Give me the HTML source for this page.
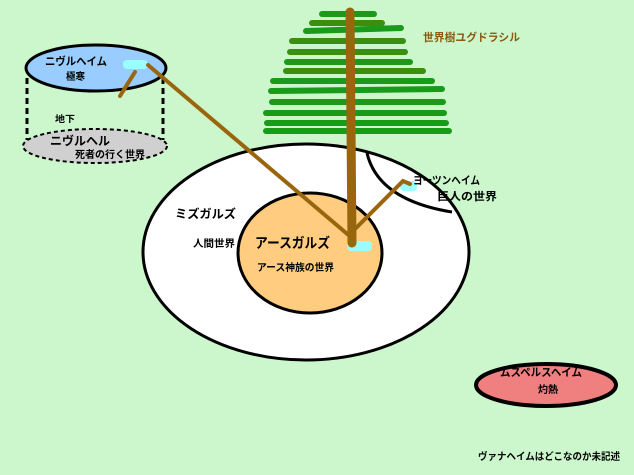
<!DOCTYPE html>
<html><head><meta charset="utf-8"><style>
body{margin:0;background:#ccf7cc;}
svg{display:block;font-family:"Liberation Sans","Noto Sans CJK JP",sans-serif;}
</style></head><body>
<svg width="634" height="475" viewBox="0 0 634 475">
<rect width="634" height="475" fill="#ccf7cc"/>
<!-- Hel -->
<line x1="27" y1="78" x2="27" y2="140" stroke="#000" stroke-width="3" stroke-dasharray="6,4"/>
<line x1="163" y1="78" x2="163" y2="140" stroke="#000" stroke-width="3" stroke-dasharray="6,4"/>
<ellipse cx="95" cy="146" rx="72" ry="17" fill="#d0d0d0" stroke="#000" stroke-width="2" stroke-dasharray="4,3"/>
<text x="55" y="122" font-size="9" font-weight="bold" textLength="20" lengthAdjust="spacingAndGlyphs">地下</text>
<text x="50" y="145" font-size="12" font-weight="bold" textLength="60" lengthAdjust="spacingAndGlyphs">ニヴルヘル</text>
<text x="75" y="158" font-size="10" font-weight="bold" textLength="70" lengthAdjust="spacingAndGlyphs">死者の行く世界</text>
<!-- Niflheim -->
<ellipse cx="96" cy="68" rx="70" ry="23" fill="#99ccff" stroke="#000" stroke-width="3"/>
<text x="45" y="65" font-size="11" font-weight="bold" textLength="62" lengthAdjust="spacingAndGlyphs">ニヴルヘイム</text>
<text x="66" y="80" font-size="10" font-weight="bold" textLength="19" lengthAdjust="spacingAndGlyphs">極寒</text>
<rect x="123" y="60" width="25" height="9" rx="4" fill="#99ffff"/>
<!-- Midgard -->
<ellipse cx="306" cy="252" rx="163" ry="108" fill="#fff" stroke="#000" stroke-width="3"/>
<path d="M367 153 Q378 200 452 212" fill="none" stroke="#000" stroke-width="3"/>
<ellipse cx="310" cy="253" rx="72" ry="60" fill="#ffcc80" stroke="#000" stroke-width="3"/>
<text x="175" y="218" font-size="12" font-weight="bold" textLength="61" lengthAdjust="spacingAndGlyphs">ミズガルズ</text>
<text x="193" y="247" font-size="10" font-weight="bold" textLength="42" lengthAdjust="spacingAndGlyphs">人間世界</text>
<text x="255" y="248" font-size="14" font-weight="bold" textLength="75" lengthAdjust="spacingAndGlyphs">アースガルズ</text>
<text x="257" y="271" font-size="10" font-weight="bold" textLength="77" lengthAdjust="spacingAndGlyphs">アース神族の世界</text>
<rect x="400" y="181" width="17" height="10" rx="4" fill="#99ffff"/>
<text x="413" y="184" font-size="11" font-weight="bold" textLength="67" lengthAdjust="spacingAndGlyphs">ヨーツンヘイム</text>
<text x="437" y="200" font-size="11" font-weight="bold" textLength="60" lengthAdjust="spacingAndGlyphs">巨人の世界</text>
<rect x="347" y="241" width="25" height="10" rx="4" fill="#99ffff"/>
<!-- tree branches -->
<g stroke-linecap="round" stroke-width="6">
<line x1="322" y1="14" x2="374" y2="14" stroke="#1a9a1a"/>
<line x1="312" y1="23" x2="382" y2="23" stroke="#3a8f10"/>
<line x1="306" y1="31" x2="401" y2="28" stroke="#1a9a1a"/>
<line x1="292" y1="41" x2="403" y2="41" stroke="#3a8f10"/>
<line x1="290" y1="52" x2="405" y2="52" stroke="#3a8f10"/>
<line x1="287" y1="62" x2="410" y2="62" stroke="#1a9a1a"/>
<line x1="286" y1="71" x2="423" y2="71" stroke="#3a8f10"/>
<line x1="273" y1="81" x2="432" y2="81" stroke="#1a9a1a"/>
<line x1="271" y1="91" x2="442" y2="89" stroke="#1a9a1a"/>
<line x1="272" y1="102" x2="443" y2="102" stroke="#1a9a1a"/>
<line x1="266" y1="113" x2="444" y2="113" stroke="#1a9a1a"/>
<line x1="267" y1="123" x2="446" y2="123" stroke="#1a9a1a"/>
<line x1="266" y1="131" x2="449" y2="131" stroke="#1a9a1a"/>
</g>
<!-- roots -->
<g stroke="#99660d" stroke-width="4" stroke-linecap="round" fill="none">
<line x1="148" y1="65" x2="352" y2="238"/>
<line x1="120" y1="96" x2="135" y2="72"/>
<polyline points="352,232 403,181 410,184"/>
</g>
<line x1="350" y1="12" x2="352" y2="243" stroke="#99660d" stroke-width="9" stroke-linecap="round"/>
<text x="423" y="41" font-size="11" font-weight="bold" fill="#8b5a10" textLength="97" lengthAdjust="spacingAndGlyphs">世界樹ユグドラシル</text>
<!-- Muspel -->
<ellipse cx="546" cy="385" rx="70" ry="21" fill="#f08080" stroke="#000" stroke-width="4"/>
<text x="500" y="376" font-size="11" font-weight="bold" textLength="82" lengthAdjust="spacingAndGlyphs">ムスペルスヘイム</text>
<text x="538" y="393" font-size="10" font-weight="bold" textLength="20" lengthAdjust="spacingAndGlyphs">灼熱</text>
<text x="478" y="460" font-size="10" font-weight="bold" textLength="142" lengthAdjust="spacingAndGlyphs">ヴァナヘイムはどこなのか未記述</text>
</svg>
</body></html>
